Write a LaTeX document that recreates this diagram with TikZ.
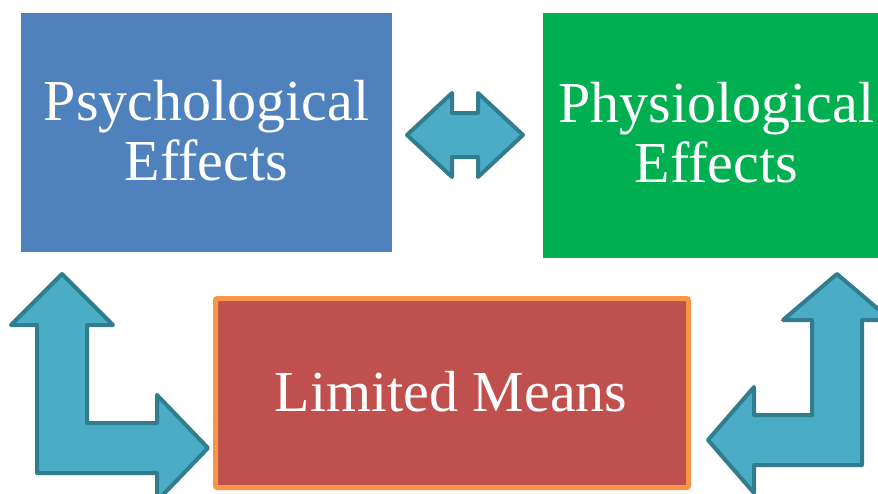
\documentclass[tikz,border=0pt]{standalone}
\usepackage{fontspec}
\setmainfont{Liberation Serif}
\definecolor{boxblue}{HTML}{4F81BD}
\definecolor{boxgreen}{HTML}{00B050}
\definecolor{boxred}{HTML}{C0504D}
\definecolor{boxorange}{HTML}{F79646}
\definecolor{arrowfill}{HTML}{4BACC6}
\definecolor{arrowline}{HTML}{317D8E}
\begin{document}
\begin{tikzpicture}[x=1pt,y=-1pt,
  box/.style={rectangle, inner sep=0pt, text=white, align=center,
    font=\fontsize{58}{60}\selectfont},
  blockarrow/.style={fill=arrowfill, draw=arrowline, line width=4pt, line join=round}]
\useasboundingbox (0,0) rectangle (878,493);
\fill[white] (0,0) rectangle (878,493);
% boxes
\node[box, fill=boxblue, minimum width=371pt, minimum height=239pt] (psy) at (206.5,132.5) {};
\node[box, fill=boxgreen, minimum width=347pt, minimum height=245pt] (phy) at (716.5,135.5) {};
\node[box, fill=boxred, draw=boxorange, line width=5pt, rounded corners=2pt,
  minimum width=473pt, minimum height=189pt] (lim) at (452,393) {};
% texts
\node[box] (psyt) at (206.5,131) {Psychological\\Effects};
\node[box] (phyt) at (716.5,133) {Physiological\\Effects};
\node[box] (limt) at (451,391.5) {Limited Means};
% block arrows
\draw[blockarrow] (407,135) -- (452,93) -- (452,113) -- (478,113) -- (478,93)
  -- (523,135) -- (478,177) -- (478,157) -- (452,157) -- (452,177) -- cycle;
\draw[blockarrow] (62,274) -- (113,325) -- (87,325) -- (87,423) -- (157,423)
  -- (157,395) -- (208,448) -- (157,501) -- (157,473) -- (37,473) -- (37,325)
  -- (11,325) -- cycle;
\draw[blockarrow] (837,274) -- (891,320) -- (862,320) -- (862,465) -- (754,465)
  -- (754,493) -- (708,440) -- (754,387) -- (754,415) -- (812,415) -- (812,320)
  -- (783,320) -- cycle;
\end{tikzpicture}
\end{document}
